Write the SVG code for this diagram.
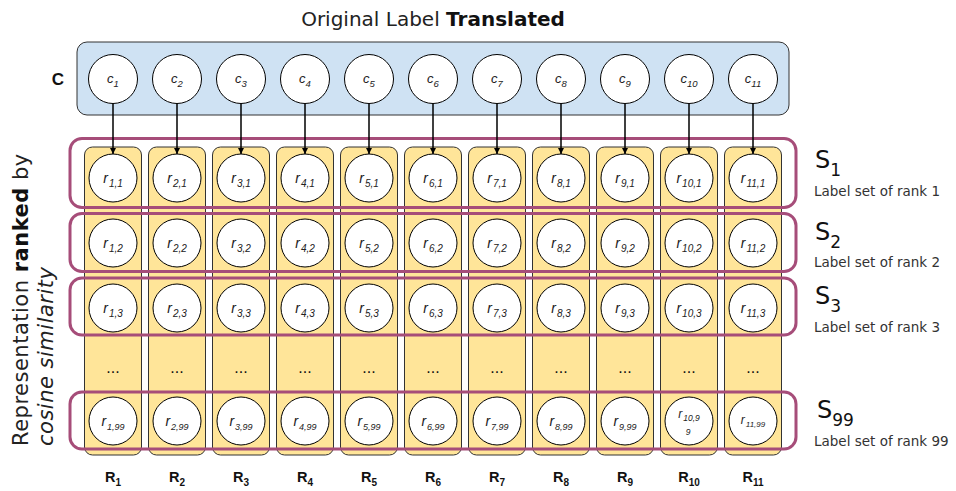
<svg xmlns="http://www.w3.org/2000/svg" width="956" height="491" viewBox="0 0 956 491">
<defs>
<style>
.sans{font-family:"DejaVu Sans","Open Sans",sans-serif;fill:#222;}
.cbox{fill:#CFE2F3;stroke:#333;stroke-width:1;}
.col{fill:#FFE599;stroke:#333;stroke-width:1;}
.sbox{fill:none;stroke:#A64D79;stroke-width:3;}
.nc{fill:#fff;stroke:#000;stroke-width:1;}
.lbl{font-family:"Liberation Sans",Arial,sans-serif;font-style:italic;font-size:13px;fill:#222;text-anchor:middle;}
.sub{font-size:9.5px;}
.rl{font-family:"Liberation Sans",Arial,sans-serif;font-style:italic;font-size:14px;fill:#222;text-anchor:middle;}
.rs{font-size:10px;}
.rs9{font-size:9px;}
.dots{font-family:"Liberation Sans",Arial,sans-serif;font-size:16px;fill:#111;text-anchor:middle;}
.R{font-family:"Liberation Sans",Arial,sans-serif;font-weight:bold;font-size:14.5px;fill:#111;text-anchor:middle;}
.Rs{font-size:10px;}
.conn{stroke:#000;stroke-width:1.5;fill:none;marker-end:url(#ah);}
.S{font-family:"DejaVu Sans","Open Sans",sans-serif;font-size:24px;fill:#111;}
.Ss{font-size:17px;}
.Sl{font-family:"DejaVu Sans","Open Sans",sans-serif;font-size:13.5px;fill:#333;}
</style>
<marker id="ah" viewBox="0 0 10 10" refX="10" refY="5" markerWidth="6" markerHeight="6" markerUnits="userSpaceOnUse" orient="auto"><path d="M0,0 L10,5 L0,10 z" fill="#000"/></marker>
</defs>
<rect width="956" height="491" fill="#fff"/>

<text id="title" class="sans" x="433" y="26" font-size="20" text-anchor="middle">Original Label <tspan font-weight="bold" fill="#111">Translated</tspan></text>

<text id="ylabel" class="sans" font-size="21" letter-spacing="0.5" transform="translate(28,446) rotate(-90)"><tspan x="0" y="0">Representation <tspan font-weight="bold" fill="#111">ranked</tspan> by</tspan><tspan x="0" y="25" font-style="italic">cosine similarity</tspan></text>

<g id="C">
<rect class="cbox" x="77" y="42" width="712" height="73" rx="10"/>
<text x="58" y="85" font-family="Liberation Sans,Arial,sans-serif" font-weight="bold" font-size="17" text-anchor="middle" fill="#111">C</text>
</g>

<g id="columns">
<rect id="R1" class="col" x="84.5" y="147" width="57" height="308" rx="8"/>
<rect id="R2" class="col" x="148.5" y="147" width="57" height="308" rx="8"/>
<rect id="R3" class="col" x="212.5" y="147" width="57" height="308" rx="8"/>
<rect id="R4" class="col" x="276.5" y="147" width="57" height="308" rx="8"/>
<rect id="R5" class="col" x="340.5" y="147" width="57" height="308" rx="8"/>
<rect id="R6" class="col" x="404.5" y="147" width="57" height="308" rx="8"/>
<rect id="R7" class="col" x="468.5" y="147" width="57" height="308" rx="8"/>
<rect id="R8" class="col" x="532.5" y="147" width="57" height="308" rx="8"/>
<rect id="R9" class="col" x="596.5" y="147" width="57" height="308" rx="8"/>
<rect id="R10" class="col" x="660.5" y="147" width="57" height="308" rx="8"/>
<rect id="R11" class="col" x="724.5" y="147" width="57" height="308" rx="8"/>
</g>

<g id="sets">
<rect id="S1" class="sbox" x="70" y="138.5" width="726" height="69" rx="12"/>
<rect id="S2" class="sbox" x="70" y="213.5" width="726" height="58" rx="12"/>
<rect id="S3" class="sbox" x="70" y="278" width="726" height="57" rx="12"/>
<rect id="S99" class="sbox" x="70" y="392" width="726" height="57" rx="12"/>
</g>

<g id="c-nodes">
<g id="c1"><circle class="nc" cx="113" cy="79" r="24.5"/><text class="lbl" x="113" y="83">c<tspan class="sub" dy="4">1</tspan></text></g>
<g id="c2"><circle class="nc" cx="177" cy="79" r="24.5"/><text class="lbl" x="177" y="83">c<tspan class="sub" dy="4">2</tspan></text></g>
<g id="c3"><circle class="nc" cx="241" cy="79" r="24.5"/><text class="lbl" x="241" y="83">c<tspan class="sub" dy="4">3</tspan></text></g>
<g id="c4"><circle class="nc" cx="305" cy="79" r="24.5"/><text class="lbl" x="305" y="83">c<tspan class="sub" dy="4">4</tspan></text></g>
<g id="c5"><circle class="nc" cx="369" cy="79" r="24.5"/><text class="lbl" x="369" y="83">c<tspan class="sub" dy="4">5</tspan></text></g>
<g id="c6"><circle class="nc" cx="433" cy="79" r="24.5"/><text class="lbl" x="433" y="83">c<tspan class="sub" dy="4">6</tspan></text></g>
<g id="c7"><circle class="nc" cx="497" cy="79" r="24.5"/><text class="lbl" x="497" y="83">c<tspan class="sub" dy="4">7</tspan></text></g>
<g id="c8"><circle class="nc" cx="561" cy="79" r="24.5"/><text class="lbl" x="561" y="83">c<tspan class="sub" dy="4">8</tspan></text></g>
<g id="c9"><circle class="nc" cx="625" cy="79" r="24.5"/><text class="lbl" x="625" y="83">c<tspan class="sub" dy="4">9</tspan></text></g>
<g id="c10"><circle class="nc" cx="689" cy="79" r="24.5"/><text class="lbl" x="689" y="83">c<tspan class="sub" dy="4">10</tspan></text></g>
<g id="c11"><circle class="nc" cx="753" cy="79" r="24.5"/><text class="lbl" x="753" y="83">c<tspan class="sub" dy="4">11</tspan></text></g>
</g>

<g id="r-row1">
<g id="r1_1"><circle class="nc" cx="113" cy="178" r="24"/><text class="rl" x="113" y="183">r<tspan class="rs" dy="4" dx="1">1,1</tspan></text></g>
<g id="r2_1"><circle class="nc" cx="177" cy="178" r="24"/><text class="rl" x="177" y="183">r<tspan class="rs" dy="4" dx="1">2,1</tspan></text></g>
<g id="r3_1"><circle class="nc" cx="241" cy="178" r="24"/><text class="rl" x="241" y="183">r<tspan class="rs" dy="4" dx="1">3,1</tspan></text></g>
<g id="r4_1"><circle class="nc" cx="305" cy="178" r="24"/><text class="rl" x="305" y="183">r<tspan class="rs" dy="4" dx="1">4,1</tspan></text></g>
<g id="r5_1"><circle class="nc" cx="369" cy="178" r="24"/><text class="rl" x="369" y="183">r<tspan class="rs" dy="4" dx="1">5,1</tspan></text></g>
<g id="r6_1"><circle class="nc" cx="433" cy="178" r="24"/><text class="rl" x="433" y="183">r<tspan class="rs" dy="4" dx="1">6,1</tspan></text></g>
<g id="r7_1"><circle class="nc" cx="497" cy="178" r="24"/><text class="rl" x="497" y="183">r<tspan class="rs" dy="4" dx="1">7,1</tspan></text></g>
<g id="r8_1"><circle class="nc" cx="561" cy="178" r="24"/><text class="rl" x="561" y="183">r<tspan class="rs" dy="4" dx="1">8,1</tspan></text></g>
<g id="r9_1"><circle class="nc" cx="625" cy="178" r="24"/><text class="rl" x="625" y="183">r<tspan class="rs" dy="4" dx="1">9,1</tspan></text></g>
<g id="r10_1"><circle class="nc" cx="689" cy="178" r="24"/><text class="rl" x="689" y="183">r<tspan class="rs" dy="4" dx="1">10,1</tspan></text></g>
<g id="r11_1"><circle class="nc" cx="753" cy="178" r="24"/><text class="rl" x="753" y="183">r<tspan class="rs" dy="4" dx="1">11,1</tspan></text></g>
</g>

<g id="r-row2">
<g id="r1_2"><circle class="nc" cx="113" cy="243" r="24"/><text class="rl" x="113" y="248">r<tspan class="rs" dy="4" dx="1">1,2</tspan></text></g>
<g id="r2_2"><circle class="nc" cx="177" cy="243" r="24"/><text class="rl" x="177" y="248">r<tspan class="rs" dy="4" dx="1">2,2</tspan></text></g>
<g id="r3_2"><circle class="nc" cx="241" cy="243" r="24"/><text class="rl" x="241" y="248">r<tspan class="rs" dy="4" dx="1">3,2</tspan></text></g>
<g id="r4_2"><circle class="nc" cx="305" cy="243" r="24"/><text class="rl" x="305" y="248">r<tspan class="rs" dy="4" dx="1">4,2</tspan></text></g>
<g id="r5_2"><circle class="nc" cx="369" cy="243" r="24"/><text class="rl" x="369" y="248">r<tspan class="rs" dy="4" dx="1">5,2</tspan></text></g>
<g id="r6_2"><circle class="nc" cx="433" cy="243" r="24"/><text class="rl" x="433" y="248">r<tspan class="rs" dy="4" dx="1">6,2</tspan></text></g>
<g id="r7_2"><circle class="nc" cx="497" cy="243" r="24"/><text class="rl" x="497" y="248">r<tspan class="rs" dy="4" dx="1">7,2</tspan></text></g>
<g id="r8_2"><circle class="nc" cx="561" cy="243" r="24"/><text class="rl" x="561" y="248">r<tspan class="rs" dy="4" dx="1">8,2</tspan></text></g>
<g id="r9_2"><circle class="nc" cx="625" cy="243" r="24"/><text class="rl" x="625" y="248">r<tspan class="rs" dy="4" dx="1">9,2</tspan></text></g>
<g id="r10_2"><circle class="nc" cx="689" cy="243" r="24"/><text class="rl" x="689" y="248">r<tspan class="rs" dy="4" dx="1">10,2</tspan></text></g>
<g id="r11_2"><circle class="nc" cx="753" cy="243" r="24"/><text class="rl" x="753" y="248">r<tspan class="rs" dy="4" dx="1">11,2</tspan></text></g>
</g>

<g id="r-row3">
<g id="r1_3"><circle class="nc" cx="113" cy="308" r="24"/><text class="rl" x="113" y="313">r<tspan class="rs" dy="4" dx="1">1,3</tspan></text></g>
<g id="r2_3"><circle class="nc" cx="177" cy="308" r="24"/><text class="rl" x="177" y="313">r<tspan class="rs" dy="4" dx="1">2,3</tspan></text></g>
<g id="r3_3"><circle class="nc" cx="241" cy="308" r="24"/><text class="rl" x="241" y="313">r<tspan class="rs" dy="4" dx="1">3,3</tspan></text></g>
<g id="r4_3"><circle class="nc" cx="305" cy="308" r="24"/><text class="rl" x="305" y="313">r<tspan class="rs" dy="4" dx="1">4,3</tspan></text></g>
<g id="r5_3"><circle class="nc" cx="369" cy="308" r="24"/><text class="rl" x="369" y="313">r<tspan class="rs" dy="4" dx="1">5,3</tspan></text></g>
<g id="r6_3"><circle class="nc" cx="433" cy="308" r="24"/><text class="rl" x="433" y="313">r<tspan class="rs" dy="4" dx="1">6,3</tspan></text></g>
<g id="r7_3"><circle class="nc" cx="497" cy="308" r="24"/><text class="rl" x="497" y="313">r<tspan class="rs" dy="4" dx="1">7,3</tspan></text></g>
<g id="r8_3"><circle class="nc" cx="561" cy="308" r="24"/><text class="rl" x="561" y="313">r<tspan class="rs" dy="4" dx="1">8,3</tspan></text></g>
<g id="r9_3"><circle class="nc" cx="625" cy="308" r="24"/><text class="rl" x="625" y="313">r<tspan class="rs" dy="4" dx="1">9,3</tspan></text></g>
<g id="r10_3"><circle class="nc" cx="689" cy="308" r="24"/><text class="rl" x="689" y="313">r<tspan class="rs" dy="4" dx="1">10,3</tspan></text></g>
<g id="r11_3"><circle class="nc" cx="753" cy="308" r="24"/><text class="rl" x="753" y="313">r<tspan class="rs" dy="4" dx="1">11,3</tspan></text></g>
</g>

<g id="ellipses">
<text class="dots" x="113" y="373">...</text>
<text class="dots" x="177" y="373">...</text>
<text class="dots" x="241" y="373">...</text>
<text class="dots" x="305" y="373">...</text>
<text class="dots" x="369" y="373">...</text>
<text class="dots" x="433" y="373">...</text>
<text class="dots" x="497" y="373">...</text>
<text class="dots" x="561" y="373">...</text>
<text class="dots" x="625" y="373">...</text>
<text class="dots" x="689" y="373">...</text>
<text class="dots" x="753" y="373">...</text>
</g>

<g id="r-row99">
<g id="r1_99"><circle class="nc" cx="113" cy="421" r="24"/><text class="rl" x="113" y="426">r<tspan class="rs9" dy="4" dx="1">1,99</tspan></text></g>
<g id="r2_99"><circle class="nc" cx="177" cy="421" r="24"/><text class="rl" x="177" y="426">r<tspan class="rs9" dy="4" dx="1">2,99</tspan></text></g>
<g id="r3_99"><circle class="nc" cx="241" cy="421" r="24"/><text class="rl" x="241" y="426">r<tspan class="rs9" dy="4" dx="1">3,99</tspan></text></g>
<g id="r4_99"><circle class="nc" cx="305" cy="421" r="24"/><text class="rl" x="305" y="426">r<tspan class="rs9" dy="4" dx="1">4,99</tspan></text></g>
<g id="r5_99"><circle class="nc" cx="369" cy="421" r="24"/><text class="rl" x="369" y="426">r<tspan class="rs9" dy="4" dx="1">5,99</tspan></text></g>
<g id="r6_99"><circle class="nc" cx="433" cy="421" r="24"/><text class="rl" x="433" y="426">r<tspan class="rs9" dy="4" dx="1">6,99</tspan></text></g>
<g id="r7_99"><circle class="nc" cx="497" cy="421" r="24"/><text class="rl" x="497" y="426">r<tspan class="rs9" dy="4" dx="1">7,99</tspan></text></g>
<g id="r8_99"><circle class="nc" cx="561" cy="421" r="24"/><text class="rl" x="561" y="426">r<tspan class="rs9" dy="4" dx="1">8,99</tspan></text></g>
<g id="r9_99"><circle class="nc" cx="625" cy="421" r="24"/><text class="rl" x="625" y="426">r<tspan class="rs9" dy="4" dx="1">9,99</tspan></text></g>
<g id="r10_99"><circle class="nc" cx="689" cy="421" r="24"/><text class="rl" x="689" y="418" style="font-size:12px">r<tspan style="font-size:8.5px" dy="3" dx="1">10,9</tspan></text><text class="rl" x="688" y="435" style="font-size:8.5px">9</text></g>
<g id="r11_99"><circle class="nc" cx="753" cy="421" r="24"/><text class="rl" x="753" y="424" style="font-size:12px">r<tspan style="font-size:8px" dy="3" dx="1">11,99</tspan></text></g>
</g>

<g id="connectors">
<line class="conn" x1="113" y1="103.5" x2="113" y2="154"/>
<line class="conn" x1="177" y1="103.5" x2="177" y2="154"/>
<line class="conn" x1="241" y1="103.5" x2="241" y2="154"/>
<line class="conn" x1="305" y1="103.5" x2="305" y2="154"/>
<line class="conn" x1="369" y1="103.5" x2="369" y2="154"/>
<line class="conn" x1="433" y1="103.5" x2="433" y2="154"/>
<line class="conn" x1="497" y1="103.5" x2="497" y2="154"/>
<line class="conn" x1="561" y1="103.5" x2="561" y2="154"/>
<line class="conn" x1="625" y1="103.5" x2="625" y2="154"/>
<line class="conn" x1="689" y1="103.5" x2="689" y2="154"/>
<line class="conn" x1="753" y1="103.5" x2="753" y2="154"/>
</g>

<g id="R-labels">
<text class="R" x="113" y="482">R<tspan class="Rs" dy="4">1</tspan></text>
<text class="R" x="177" y="482">R<tspan class="Rs" dy="4">2</tspan></text>
<text class="R" x="241" y="482">R<tspan class="Rs" dy="4">3</tspan></text>
<text class="R" x="305" y="482">R<tspan class="Rs" dy="4">4</tspan></text>
<text class="R" x="369" y="482">R<tspan class="Rs" dy="4">5</tspan></text>
<text class="R" x="433" y="482">R<tspan class="Rs" dy="4">6</tspan></text>
<text class="R" x="497" y="482">R<tspan class="Rs" dy="4">7</tspan></text>
<text class="R" x="561" y="482">R<tspan class="Rs" dy="4">8</tspan></text>
<text class="R" x="625" y="482">R<tspan class="Rs" dy="4">9</tspan></text>
<text class="R" x="689" y="482">R<tspan class="Rs" dy="4">10</tspan></text>
<text class="R" x="753" y="482">R<tspan class="Rs" dy="4">11</tspan></text>
</g>

<g id="S-labels">
<g id="S1-label"><text class="S" x="815" y="168">S<tspan class="Ss" dy="8">1</tspan></text><text class="Sl" x="814" y="196">Label set of rank 1</text></g>
<g id="S2-label"><text class="S" x="815" y="240">S<tspan class="Ss" dy="8">2</tspan></text><text class="Sl" x="814" y="267">Label set of rank 2</text></g>
<g id="S3-label"><text class="S" x="815" y="304">S<tspan class="Ss" dy="8">3</tspan></text><text class="Sl" x="814" y="332">Label set of rank 3</text></g>
<g id="S99-label"><text class="S" x="817" y="418">S<tspan class="Ss" dy="8">99</tspan></text><text class="Sl" x="814" y="446">Label set of rank 99</text></g>
</g>
</svg>
